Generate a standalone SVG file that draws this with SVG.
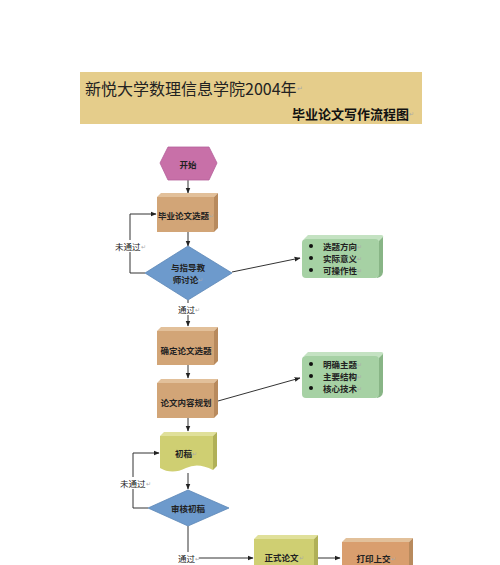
<svg xmlns="http://www.w3.org/2000/svg" width="500" height="565" viewBox="0 0 500 565">
<defs>
<marker id="ah" viewBox="0 0 10 10" refX="9" refY="5" markerWidth="6" markerHeight="6" orient="auto"><path d="M0,1 L10,5 L0,9 z" fill="#222"/></marker>
<style>
.t{font-family:"Noto Sans CJK SC","Liberation Sans",sans-serif;font-size:8.5px;font-weight:bold;fill:#222;text-anchor:middle;dominant-baseline:central}
.l{font-family:"Noto Sans CJK SC","Liberation Sans",sans-serif;font-size:8.5px;fill:#222;dominant-baseline:central}
.pm{fill:#aaa;font-weight:normal;font-size:6px}
.c{fill:none;stroke:#333;stroke-width:1}
.tan{fill:#d2a577}.tanT{fill:#e2c09a}.tanR{fill:#b88a5d}
.grn{fill:#a6d1a4}.grnT{fill:#c4e2c2}.grnR{fill:#88b586}
.ylw{fill:#cfcf72}.ylwT{fill:#e0e09a}.ylwR{fill:#b0b057}
.dia{fill:#6d9acc;stroke:#5c86b6;stroke-width:0.8}
</style>
</defs>
<rect width="500" height="565" fill="#fff"/>
<g id="title">
<rect x="80" y="72" width="342" height="52" fill="#e5cd8b"/>
<text x="85" y="88" style="font-family:'Noto Sans CJK SC',sans-serif;font-size:16px;fill:#222;dominant-baseline:central">新悦大学数理信息学院2004年<tspan style="fill:#aaa;font-size:7px">↵</tspan></text>
<text x="414" y="113" style="font-family:'Noto Sans CJK SC',sans-serif;font-size:13px;font-weight:bold;fill:#111;text-anchor:end;dominant-baseline:central">毕业论文写作流程图<tspan style="fill:#aaa;font-size:6px;font-weight:normal">↵</tspan></text>
</g>
<g id="connectors">
<line class="c" x1="188" y1="180" x2="188" y2="193" marker-end="url(#ah)"/>
<line class="c" x1="188" y1="232" x2="188" y2="246" marker-end="url(#ah)"/>
<polyline class="c" points="145,273 130,273 130,252"/>
<polyline class="c" points="130,240 130,214 156,214" marker-end="url(#ah)"/>
<line class="c" x1="232" y1="272" x2="300" y2="258" marker-end="url(#ah)"/>
<line class="c" x1="188" y1="300" x2="188" y2="303"/>
<line class="c" x1="188" y1="315" x2="188" y2="326" marker-end="url(#ah)"/>
<line class="c" x1="188" y1="365" x2="188" y2="378" marker-end="url(#ah)"/>
<line class="c" x1="218" y1="401" x2="300" y2="378" marker-end="url(#ah)"/>
<line class="c" x1="188" y1="418" x2="188" y2="431" marker-end="url(#ah)"/>
<line class="c" x1="188" y1="473" x2="188" y2="489" marker-end="url(#ah)"/>
<polyline class="c" points="148,508 133,508 133,489"/>
<polyline class="c" points="133,477 133,453 159,453" marker-end="url(#ah)"/>
<line class="c" x1="188" y1="526" x2="188" y2="552"/>
<line class="c" x1="199" y1="558" x2="253" y2="558" marker-end="url(#ah)"/>
<line class="c" x1="318" y1="558" x2="340" y2="558" marker-end="url(#ah)"/>
</g>
<g id="labels">
<text class="l" x="115" y="246">未通过<tspan class="pm">↵</tspan></text>
<text class="l" x="178" y="309">通过<tspan class="pm">↵</tspan></text>
<text class="l" x="120" y="483">未通过<tspan class="pm">↵</tspan></text>
<text class="l" x="178" y="558">通过<tspan class="pm">↵</tspan></text>
</g>
<g id="start">
<polygon points="160,163 168,147 209,147 217,163 209,180 168,180" fill="#c870a8" stroke="#b4609a" stroke-width="0.8"/>
<text class="t" x="188" y="164">开始</text>
</g>
<g id="n1">
<polygon class="tanT" points="157,197 161,193 218,193 214,197"/>
<polygon class="tanR" points="214,197 218,193 218,228 214,232"/>
<rect class="tan" x="157" y="197" width="57" height="35"/>
<text class="t" x="186" y="215">毕业论文选题<tspan class="pm">↵</tspan></text>
</g>
<g id="d1">
<polygon class="dia" points="188,246 232,273 188,300 145,273"/>
<text class="t" x="188" y="267">与指导教</text>
<text class="t" x="188" y="279">师讨论<tspan class="pm">↵</tspan></text>
</g>
<g id="g1">
<path class="grnT" d="M304,239 L308,235 L381,235 Q384,235 383,238 L379,242 Z"/>
<path class="grnR" d="M379,241 L383,237 L383,272 Q383,275 380,277 L377,278 Z"/>
<rect class="grn" x="302" y="239" width="77" height="39" rx="4"/>
<circle cx="311" cy="246" r="2" fill="#111"/><circle cx="311" cy="258" r="2" fill="#111"/><circle cx="311" cy="270" r="2" fill="#111"/>
<text class="l" x="323" y="246" font-weight="bold">选题方向<tspan class="pm">↵</tspan></text>
<text class="l" x="323" y="258" font-weight="bold">实际意义<tspan class="pm">↵</tspan></text>
<text class="l" x="323" y="270" font-weight="bold">可操作性<tspan class="pm">↵</tspan></text>
</g>
<g id="n2">
<polygon class="tanT" points="157,331 161,327 218,327 214,331"/>
<polygon class="tanR" points="214,331 218,327 218,361 214,365"/>
<rect class="tan" x="157" y="331" width="57" height="34"/>
<text class="t" x="186" y="350">确定论文选题</text>
</g>
<g id="n3">
<polygon class="tanT" points="157,383 161,379 218,379 214,383"/>
<polygon class="tanR" points="214,383 218,379 218,414 214,418"/>
<rect class="tan" x="157" y="383" width="57" height="35"/>
<text class="t" x="186" y="402">论文内容规划</text>
</g>
<g id="g2">
<path class="grnT" d="M304,356 L308,352 L381,352 Q384,352 383,355 L379,359 Z"/>
<path class="grnR" d="M379,358 L383,354 L383,392 Q383,395 380,397 L377,398 Z"/>
<rect class="grn" x="302" y="356" width="77" height="42" rx="4"/>
<circle cx="311" cy="364" r="2" fill="#111"/><circle cx="311" cy="376" r="2" fill="#111"/><circle cx="311" cy="388" r="2" fill="#111"/>
<text class="l" x="323" y="364" font-weight="bold">明确主题<tspan class="pm">↵</tspan></text>
<text class="l" x="323" y="376" font-weight="bold">主要结构<tspan class="pm">↵</tspan></text>
<text class="l" x="323" y="388" font-weight="bold">核心技术<tspan class="pm">↵</tspan></text>
</g>
<g id="n4">
<polygon class="ylwT" points="160,436 164,432 217,432 213,436"/>
<path class="ylwR" d="M213,436 L217,432 L217,466 L213,470 Z"/>
<path class="ylw" d="M160,436 L213,436 L213,470 Q198,462 186,468 Q172,475 160,468 Z"/>
<text class="t" x="186" y="453">初稿<tspan class="pm">↵</tspan></text>
</g>
<g id="d2">
<polygon class="dia" points="188,490 229,508 188,526 148,508"/>
<text class="t" x="188" y="508">审核初稿</text>
</g>
<g id="n5">
<polygon class="ylwT" points="254,539 258,535 318,535 314,539"/>
<polygon class="ylwR" points="314,539 318,535 318,565 314,565"/>
<rect class="ylw" x="254" y="539" width="60" height="30"/>
<text class="t" x="284" y="557">正式论文<tspan class="pm">↵</tspan></text>
</g>
<g id="n6">
<polygon class="tanT" points="342,542 346,538 413,538 409,542"/>
<polygon class="tanR" points="409,542 413,538 413,565 409,565"/>
<rect x="342" y="542" width="67" height="30" fill="#d99e6e"/>
<text class="t" x="376" y="558">打印上交<tspan class="pm">↵</tspan></text>
</g>
</svg>
